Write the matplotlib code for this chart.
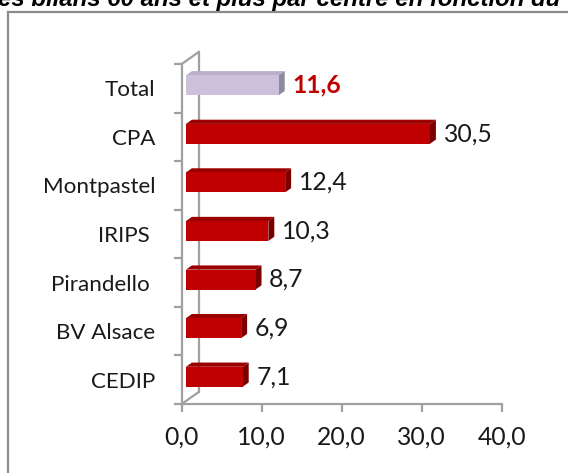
import matplotlib
matplotlib.use('Agg')
import matplotlib.pyplot as plt
from matplotlib.patches import Polygon, Rectangle
from matplotlib.lines import Line2D
from matplotlib.textpath import TextPath
from matplotlib.font_manager import FontProperties

categories = ['Total', 'CPA', 'Montpastel', 'IRIPS ', 'Pirandello ', 'BV Alsace', 'CEDIP']
values = [11.6, 30.5, 12.4, 10.3, 8.7, 6.9, 7.1]
value_labels = ['11,6', '30,5', '12,4', '10,3', '8,7', '6,9', '7,1']
xticks = [0, 10, 20, 30, 40]
xtick_labels = ['0,0', '10,0', '20,0', '30,0', '40,0']
title = 'es bilans 60 ans et plus par centre en fonction du'

W, H = 568, 473
fig = plt.figure(figsize=(W / 100, H / 100), dpi=100)


def size_for_width(text, target_px, family, weight='normal', style='normal'):
    fp = FontProperties(family=family, size=10, weight=weight, style=style)
    tp = TextPath((0, 0), text, prop=fp)
    w_px10 = tp.get_extents().width * 100 / 72.0
    return 10 * target_px / w_px10


cat_size = size_for_width('CEDIP', 63, 'Lato')
num_size = size_for_width('30,5', 46, 'Lato')
title_size = size_for_width(title, 562, 'Liberation Sans', 'bold', 'italic')

# outer chart frame (clipped at right/bottom)
fig.add_artist(Line2D([8 / W, 8 / W], [1 - 12 / H, 0], transform=fig.transFigure,
                      color='#8c8c8c', lw=1.6))
fig.add_artist(Line2D([8 / W, 1], [1 - 12 / H, 1 - 12 / H], transform=fig.transFigure,
                      color='#8c8c8c', lw=1.6))

fig.text(-2 / W, 1 - 6 / H, title, fontsize=title_size, fontweight='bold', fontstyle='italic',
         family='Liberation Sans', ha='left', va='baseline')

ax_left, ax_right, ax_bottom, ax_top = 181.7, 501.7, 404, 64
ax = fig.add_axes([ax_left / W, 1 - ax_bottom / H, (ax_right - ax_left) / W,
                   (ax_bottom - ax_top) / H])
ax.set_xlim(0, 40)
n = len(categories)
ax.set_ylim(0, n)
ax.patch.set_alpha(0)

px_x = (ax_right - ax_left) / 40.0
px_y = (ax_bottom - ax_top) / n
DX = 17 / px_x
DY = 12 / px_y

axcol = '#a0a0a0'
for s in ['top', 'right']:
    ax.spines[s].set_visible(False)
for s in ['left', 'bottom']:
    ax.spines[s].set_color(axcol)
    ax.spines[s].set_linewidth(1.6)

# back wall lines
ax.add_line(Line2D([DX, DX], [DY, n + DY], color=axcol, lw=1.6, clip_on=False, zorder=1))
ax.add_line(Line2D([0, DX], [n, n + DY], color=axcol, lw=1.6, clip_on=False, zorder=1))
ax.add_line(Line2D([0, DX], [0, DY], color=axcol, lw=1.6, clip_on=False, zorder=1))

ax.set_xticks(xticks)
ax.set_xticklabels(xtick_labels, family='Lato', fontsize=num_size, color='#1a1a1a')
ax.tick_params(axis='x', length=5.5, width=1.6, color=axcol, pad=10)

ax.set_yticks(range(n + 1))
ax.set_yticklabels([''] * (n + 1))
ax.tick_params(axis='y', which='major', length=6, width=1.6, color=axcol)
ax.set_yticks([k + 0.5 for k in range(n)], minor=True)
ax.set_yticklabels(list(reversed(categories)), minor=True, family='Lato', fontsize=cat_size,
                   color='#1a1a1a')
ax.tick_params(axis='y', which='minor', length=0, pad=19)

d0, bd, h = 0.25, 0.35, 0.41
for i, (v, lab) in enumerate(zip(values, value_labels)):
    pos = n - 1 - i
    if i == 0:
        fc, tc, sc = '#ccc1da', '#b8afc8', '#8e899c'
        lc, lw_ = '#c00000', 'bold'
    else:
        fc, tc, sc = '#c00000', '#9a0000', '#7a0000'
        lc, lw_ = '#1a1a1a', 'normal'
    x0 = d0 * DX
    y0 = pos + 0.5 + d0 * DY - h / 2
    ex, ey = bd * DX, bd * DY
    ax.add_patch(Polygon([(x0, y0 + h), (x0 + v, y0 + h), (x0 + v + ex, y0 + h + ey),
                          (x0 + ex, y0 + h + ey)], closed=True, fc=tc, ec='none', zorder=3))
    ax.add_patch(Polygon([(x0 + v, y0), (x0 + v + ex, y0 + ey), (x0 + v + ex, y0 + h + ey),
                          (x0 + v, y0 + h)], closed=True, fc=sc, ec='none', zorder=3))
    ax.add_patch(Rectangle((x0, y0), v, h, fc=fc, ec='none', zorder=4))
    ax.annotate(lab, (x0 + v + ex, y0 + h / 2), xytext=(5.5, 0), textcoords='offset points',
                ha='left', va='center', family='Lato', fontsize=num_size, color=lc,
                fontweight=lw_, zorder=5)

fig.savefig('out.png', dpi=100)
